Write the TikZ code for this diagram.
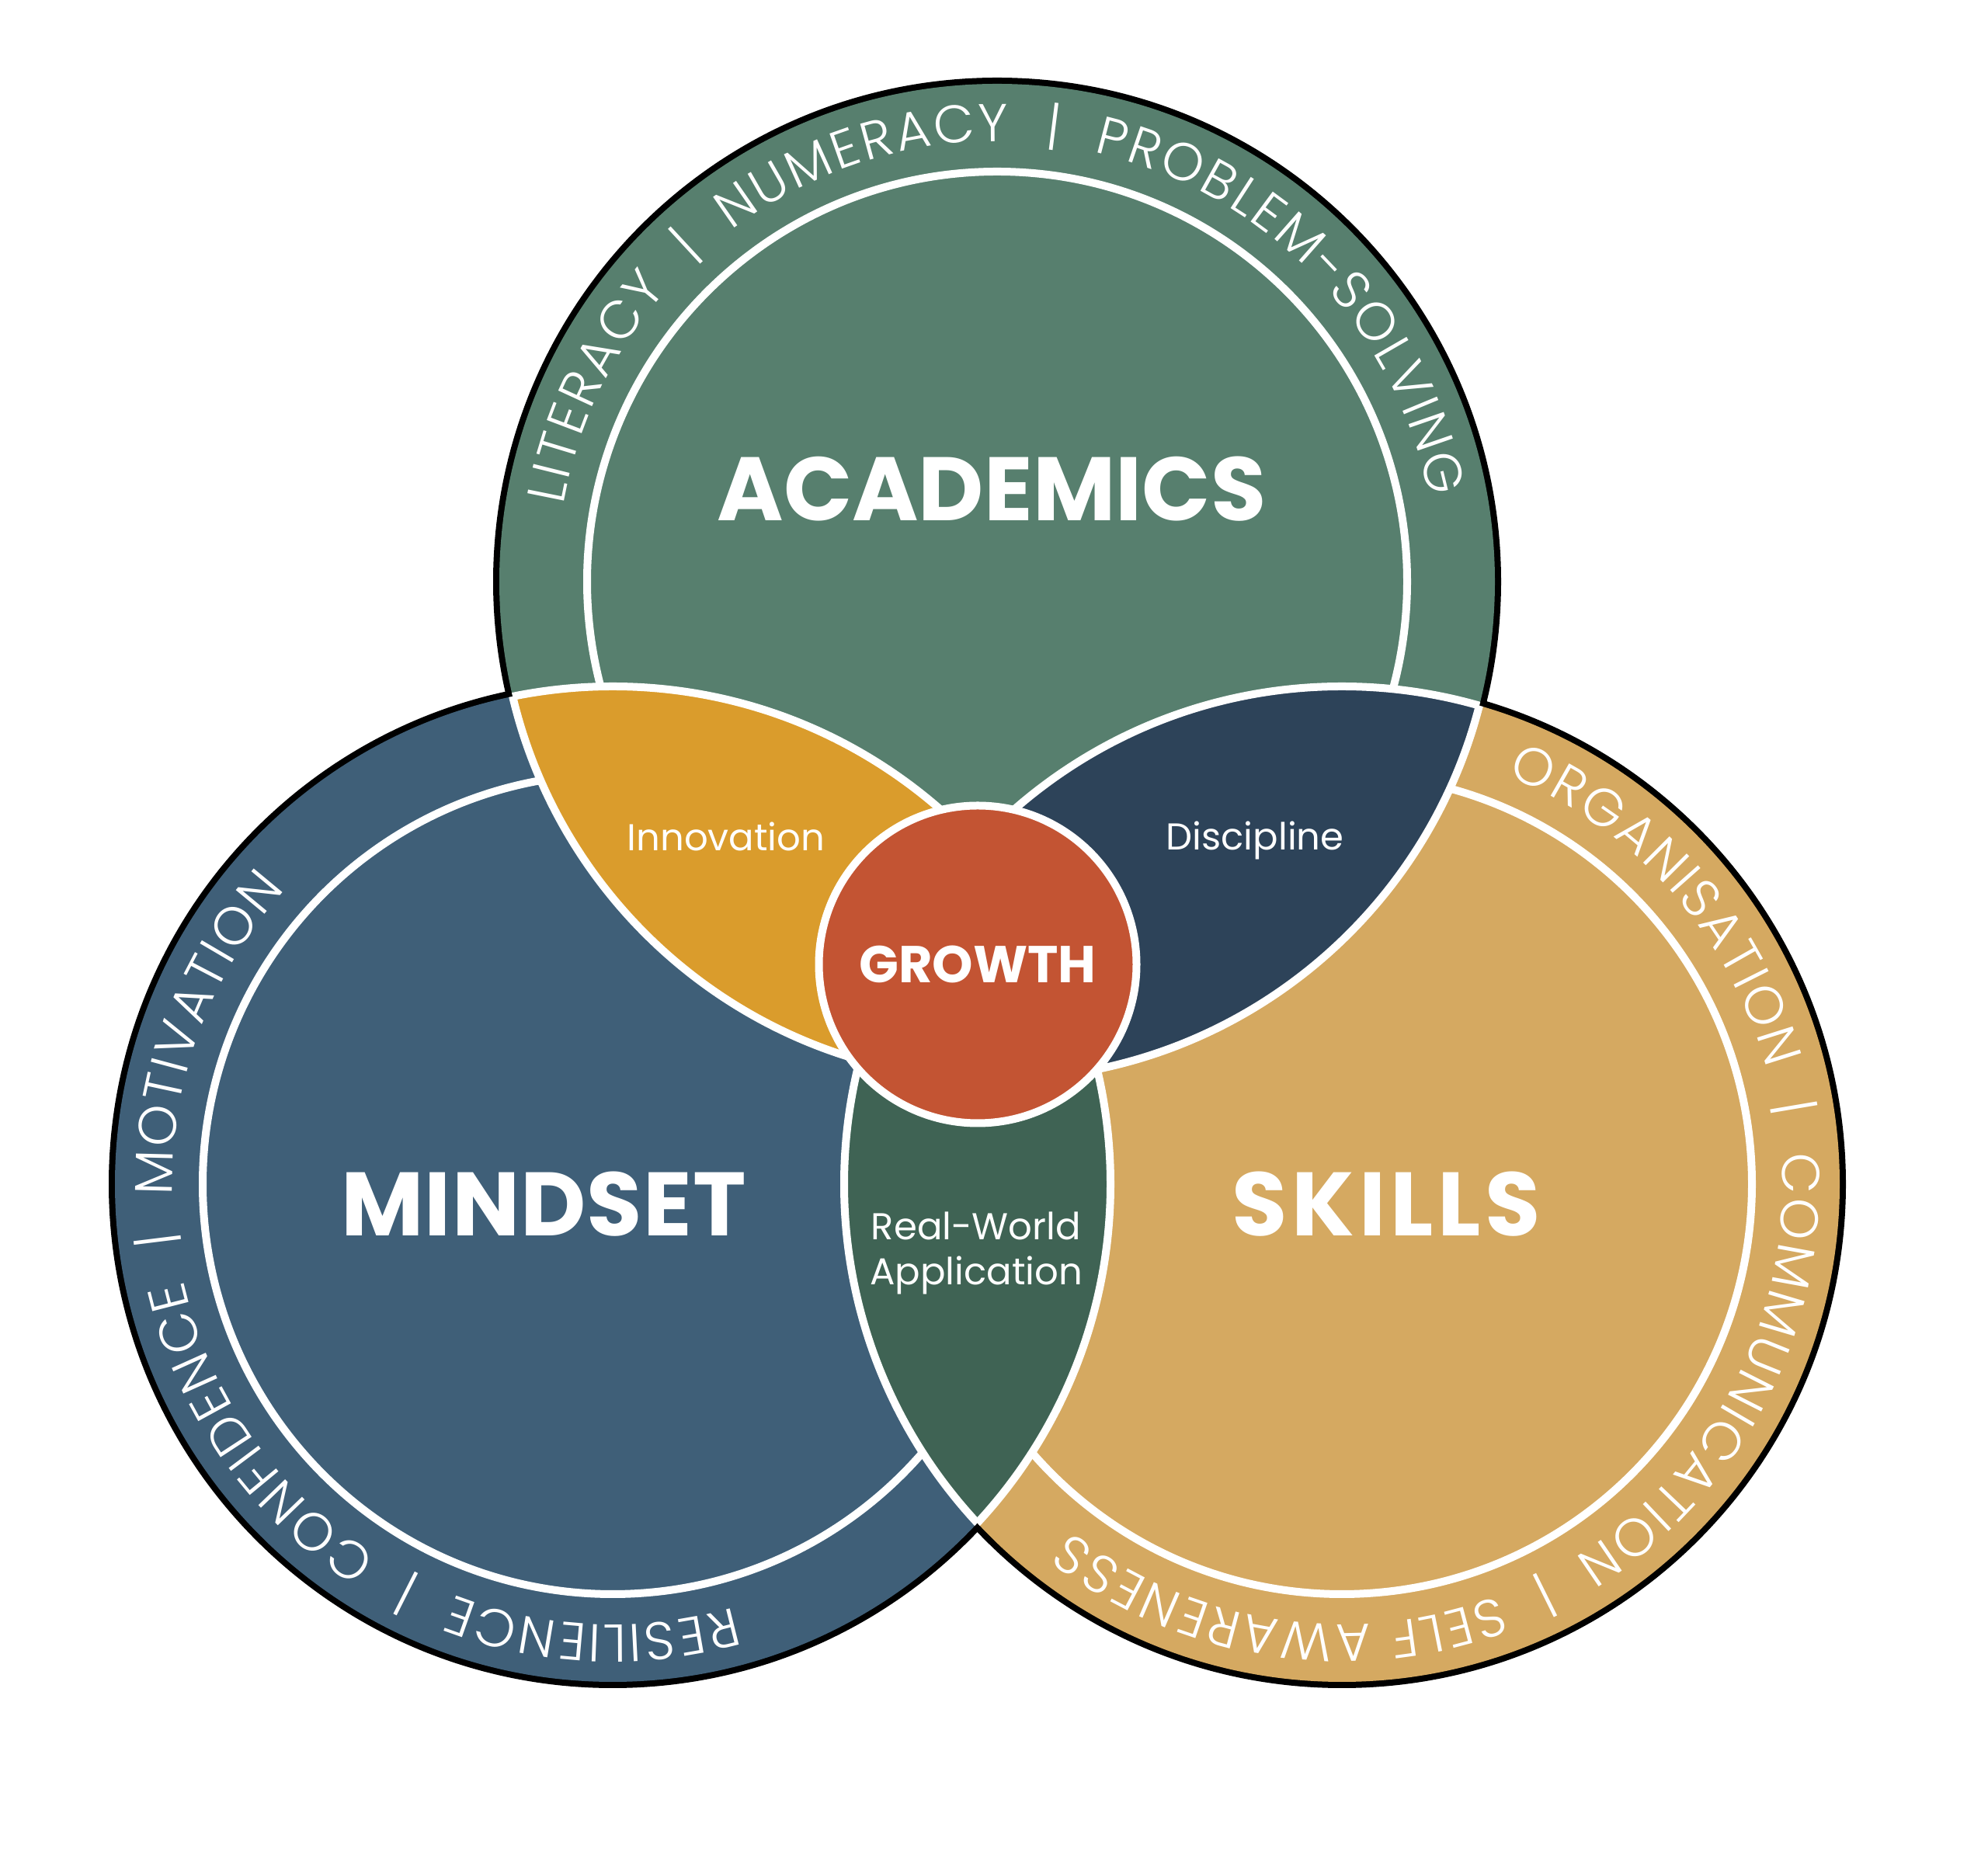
\documentclass[tikz,border=0pt]{standalone}
\usepackage{fontspec}
\setmainfont{Poppins}
\newfontfamily\ringfont{Poppins Light}
\usetikzlibrary{decorations.text}
\definecolor{acad}{HTML}{577F6E}
\definecolor{mind}{HTML}{3F5F78}
\definecolor{skil}{HTML}{D5A961}
\definecolor{innov}{HTML}{DA9C2C}
\definecolor{disc}{HTML}{2D4359}
\definecolor{realw}{HTML}{3F6354}
\definecolor{grow}{HTML}{C35433}
\newcommand\ringsize{\ringfont\fontsize{19.5}{20}\selectfont}
\newcommand\gap{{\ }{\textbar}{\ }}
\tikzset{
	bigword/.style={text=white, font=\fontsize{33}{36}\selectfont\bfseries},
	lenslabel/.style={text=white, font=\fontsize{13.7}{16.6}\selectfont, align=center},
	ring/.style={decorate, decoration={text along path, text align=fit to path, text color=white, text={|\ringsize|#1}}},
}
\begin{document}
\begin{tikzpicture}
	\useasboundingbox (0,0) rectangle (25.6,24.16);
	\path
	(12.84,16.67) coordinate (A)
	(7.89,8.91) coordinate (M)
	(17.28,8.91) coordinate (S)
	(12.59,11.74) coordinate (G)
	;
	% outline, discs and inner rings
	\foreach \c in {A,M,S} \draw[line width=.16cm] (\c) circle (6.41);
	\foreach \c/\col in {A/acad,M/mind,S/skil} \fill[\col] (\c) circle (6.41);
	\foreach \c in {A,M,S} \draw[white, line width=.1cm] (\c) circle (5.28);
	% texts round the rings
	\path[ring={LITERACY {\ }{\textbar}{\ } NUMERACY {\ }{\textbar}{\ } PROBLEM-SOLVING}] ([shift={(A)}]170:5.67) arc[start angle=170, end angle=11, radius=5.67];
	\path[ring={RESILIENCE {\ }{\textbar}{\ } CONFIDENCE {\ }{\textbar}{\ } MOTIVATION}] ([shift={(M)}]-74:5.67) arc[start angle=-74, end angle=-222, radius=5.67];
	\path[ring={ORGANISATION {\ }{\textbar}{\ } COMMUNICATION {\ }{\textbar}{\ } SELF AWARENESS}] ([shift={(S)}]68:5.67) arc[start angle=68, end angle=-128, radius=5.67];
	% overlaps
	\foreach \p/\q/\col in {A/M/innov,A/S/disc,M/S/realw} {
		\begin{scope}
			\clip (\p) circle (6.41);
			\fill[\col] (\q) circle (6.41);
		\end{scope}
	}
	\foreach \p/\q in {A/M,M/A,A/S,S/A,M/S,S/M} {
		\begin{scope}
			\clip (\p) circle (6.41);
			\draw[white, line width=.1cm] (\q) circle (6.41);
		\end{scope}
	}
	\node[circle, draw=white, fill=grow, line width=.1cm, minimum size=4.09cm, inner sep=0pt, text=white, font=\fontsize{19}{22}\selectfont\bfseries] (growth) at (G) {GROWTH};
	\node[bigword] (academics) at (12.77,17.86) {ACADEMICS};
	\node[bigword, font=\fontsize{33}{36}\selectfont\bfseries\addfontfeatures{LetterSpace=1}] (mindset) at (7.00,8.65) {MINDSET};
	\node[bigword, font=\fontsize{33}{36}\selectfont\bfseries\addfontfeatures{LetterSpace=5}] (skills) at (17.85,8.65) {SKILLS};
	\node[lenslabel] (innovation) at (9.35,13.39) {Innovation};
	\node[lenslabel, anchor=base] (discipline) at (16.16,13.21) {Discipline};
	\node[lenslabel] (realworld) at (12.57,8.02) {Real-World\\Application};
\end{tikzpicture}
\end{document}
